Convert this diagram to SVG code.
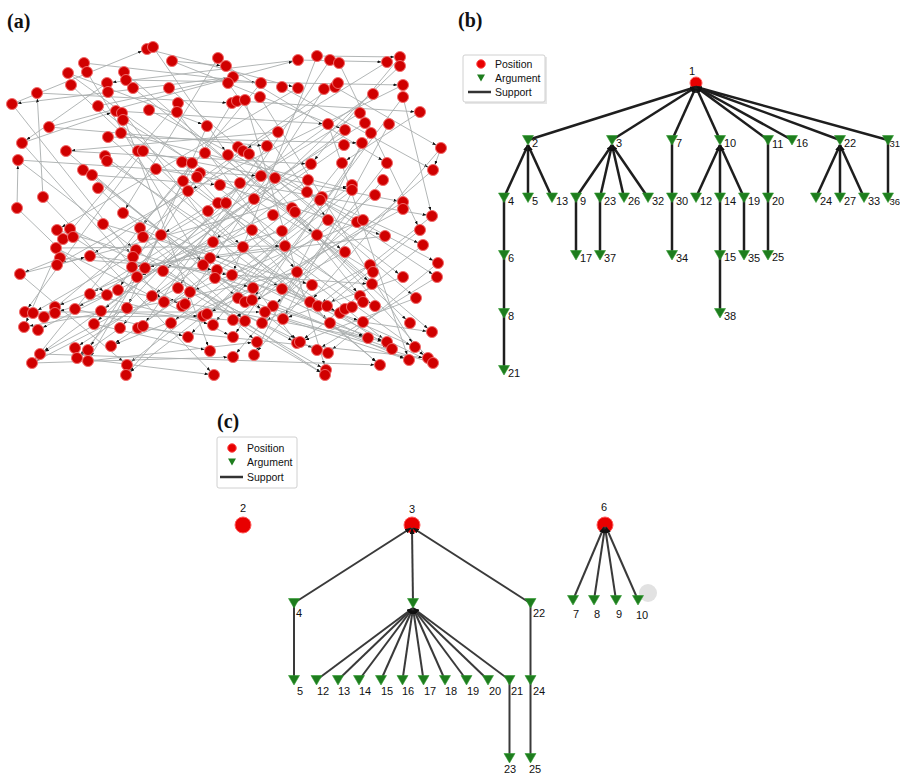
<svg xmlns="http://www.w3.org/2000/svg" xmlns:xlink="http://www.w3.org/1999/xlink" width="900" height="774" viewBox="0 0 900 774">
<style>
.pl{font-family:"Liberation Serif","Times New Roman",serif;font-weight:bold;font-size:20px;fill:#111}
.lg{font-family:"Liberation Sans",Arial,sans-serif;font-size:10.5px;fill:#111}
.lb{font-family:"Liberation Sans",Arial,sans-serif;font-size:11px;fill:#111}
.ea line{stroke:#a9aeae;stroke-width:0.9;marker-end:url(#ahs)}
.ra circle{fill:#d00000;stroke:#f26a6a;stroke-width:1}
.eb line{stroke:#1e1e1e;stroke-width:2.5;marker-end:url(#ah)}
.ec line{stroke:#3a3a3a;stroke-width:2;marker-end:url(#ah)}
.eb line.v,.ec line.v{marker-end:none}
.pos{fill:#e80000;stroke:#ff5a5a;stroke-width:1}
.box{fill:#fff;stroke:#d0d0d0;stroke-width:1}
</style>
<defs>
<marker id="ahs" markerUnits="userSpaceOnUse" markerWidth="4" markerHeight="3" refX="9.5" refY="1.5" orient="auto"><path d="M0,0L4,1.5L0,3z" fill="#111"/></marker>
<marker id="ah" markerUnits="userSpaceOnUse" markerWidth="6" markerHeight="5" refX="6" refY="2.5" orient="auto"><path d="M0,0L6,2.5L0,5z" fill="#111"/></marker>
<path id="tri" d="M-5.5,-4.5H5.5L0,5z" fill="#1e7d1e" stroke="#2f9a2f" stroke-width="0.6"/>
<path id="tris" d="M-4,-3.5H4L0,3.5z" fill="#1e7d1e"/>
</defs>

<text class="pl" x="7" y="28">(a)</text>
<text class="pl" x="458" y="27">(b)</text>
<text class="pl" x="217" y="428">(c)</text>

<g id="a-edges" class="ea">
<line x1="147" y1="49" x2="298" y2="88"/><line x1="153" y1="47" x2="228" y2="155"/><line x1="172" y1="61" x2="345" y2="130"/><line x1="218" y1="58" x2="123" y2="213"/><line x1="226" y1="66" x2="387" y2="163"/>
<line x1="298" y1="60" x2="107" y2="83"/><line x1="317" y1="56" x2="232" y2="275"/><line x1="330" y1="60" x2="178" y2="288"/><line x1="339" y1="63" x2="420" y2="230"/><line x1="387" y1="62" x2="243" y2="151"/>
<line x1="400" y1="57" x2="311" y2="164"/><line x1="400" y1="66" x2="213" y2="242"/><line x1="84" y1="63" x2="261" y2="83"/><line x1="87" y1="72" x2="203" y2="265"/><line x1="68" y1="73" x2="192" y2="163"/>
<line x1="71" y1="85" x2="243" y2="247"/><line x1="124" y1="72" x2="372" y2="284"/><line x1="126" y1="80" x2="403" y2="85"/><line x1="133" y1="88" x2="345" y2="252"/><line x1="107" y1="83" x2="22" y2="143"/>
<line x1="108" y1="92" x2="297" y2="343"/><line x1="169" y1="88" x2="416" y2="298"/><line x1="233" y1="77" x2="12" y2="104"/><line x1="228" y1="83" x2="328" y2="220"/><line x1="261" y1="83" x2="140" y2="228"/>
<line x1="282" y1="87" x2="433" y2="170"/><line x1="298" y1="88" x2="57" y2="230"/><line x1="324" y1="89" x2="185" y2="304"/><line x1="335" y1="87" x2="441" y2="148"/><line x1="338" y1="83" x2="90" y2="256"/>
<line x1="37" y1="93" x2="232" y2="103"/><line x1="260" y1="97" x2="415" y2="347"/><line x1="403" y1="85" x2="188" y2="191"/><line x1="403" y1="97" x2="252" y2="300"/><line x1="373" y1="94" x2="218" y2="203"/>
<line x1="12" y1="104" x2="133" y2="257"/><line x1="98" y1="106" x2="387" y2="342"/><line x1="116" y1="111" x2="328" y2="124"/><line x1="122" y1="113" x2="210" y2="351"/><line x1="123" y1="120" x2="373" y2="272"/>
<line x1="149" y1="110" x2="438" y2="263"/><line x1="178" y1="103" x2="56" y2="248"/><line x1="177" y1="112" x2="297" y2="272"/><line x1="232" y1="103" x2="118" y2="290"/><line x1="237" y1="101" x2="420" y2="112"/>
<line x1="245" y1="100" x2="326" y2="370"/><line x1="420" y1="112" x2="342" y2="163"/><line x1="360" y1="113" x2="161" y2="235"/><line x1="365" y1="123" x2="90" y2="294"/><line x1="371" y1="133" x2="233" y2="337"/>
<line x1="328" y1="124" x2="409" y2="360"/><line x1="345" y1="130" x2="101" y2="311"/><line x1="389" y1="124" x2="283" y2="319"/><line x1="49" y1="127" x2="267" y2="146"/><line x1="207" y1="126" x2="127" y2="308"/>
<line x1="108" y1="137" x2="380" y2="365"/><line x1="121" y1="133" x2="352" y2="190"/><line x1="278" y1="132" x2="66" y2="151"/><line x1="22" y1="143" x2="164" y2="302"/><line x1="66" y1="151" x2="238" y2="298"/>
<line x1="138" y1="151" x2="403" y2="202"/><line x1="143" y1="151" x2="25" y2="312"/><line x1="238" y1="147" x2="437" y2="277"/><line x1="243" y1="151" x2="44" y2="317"/><line x1="249" y1="154" x2="360" y2="296"/>
<line x1="267" y1="146" x2="143" y2="326"/><line x1="228" y1="155" x2="410" y2="323"/><line x1="205" y1="153" x2="317" y2="235"/><line x1="105" y1="156" x2="282" y2="289"/><line x1="107" y1="161" x2="392" y2="349"/>
<line x1="18" y1="160" x2="136" y2="250"/><line x1="344" y1="145" x2="163" y2="271"/><line x1="362" y1="143" x2="254" y2="355"/><line x1="441" y1="148" x2="310" y2="302"/><line x1="311" y1="164" x2="75" y2="309"/>
<line x1="342" y1="163" x2="213" y2="325"/><line x1="387" y1="163" x2="262" y2="323"/><line x1="182" y1="162" x2="330" y2="323"/><line x1="192" y1="163" x2="32" y2="363"/><line x1="83" y1="170" x2="265" y2="312"/>
<line x1="92" y1="175" x2="300" y2="342"/><line x1="156" y1="169" x2="432" y2="216"/><line x1="200" y1="173" x2="363" y2="302"/><line x1="197" y1="177" x2="88" y2="350"/><line x1="183" y1="181" x2="428" y2="358"/>
<line x1="188" y1="191" x2="57" y2="265"/><line x1="220" y1="185" x2="385" y2="236"/><line x1="240" y1="183" x2="77" y2="358"/><line x1="261" y1="176" x2="120" y2="328"/><line x1="275" y1="178" x2="403" y2="277"/>
<line x1="98" y1="188" x2="245" y2="321"/><line x1="43" y1="197" x2="214" y2="375"/><line x1="433" y1="170" x2="273" y2="306"/><line x1="308" y1="180" x2="152" y2="296"/><line x1="383" y1="180" x2="233" y2="357"/>
<line x1="352" y1="185" x2="171" y2="323"/><line x1="352" y1="190" x2="127" y2="365"/><line x1="307" y1="192" x2="423" y2="245"/><line x1="322" y1="197" x2="188" y2="337"/><line x1="320" y1="200" x2="111" y2="346"/>
<line x1="375" y1="195" x2="203" y2="316"/><line x1="254" y1="199" x2="40" y2="354"/><line x1="17" y1="208" x2="107" y2="295"/><line x1="123" y1="213" x2="340" y2="313"/><line x1="208" y1="211" x2="33" y2="313"/>
<line x1="218" y1="203" x2="375" y2="306"/><line x1="226" y1="203" x2="94" y2="324"/><line x1="292" y1="208" x2="138" y2="328"/><line x1="295" y1="212" x2="433" y2="363"/><line x1="273" y1="215" x2="55" y2="307"/>
<line x1="103" y1="224" x2="312" y2="285"/><line x1="57" y1="230" x2="253" y2="288"/><line x1="70" y1="229" x2="317" y2="350"/><line x1="63" y1="239" x2="24" y2="327"/><line x1="73" y1="237" x2="182" y2="306"/>
<line x1="140" y1="228" x2="368" y2="338"/><line x1="143" y1="237" x2="257" y2="342"/><line x1="161" y1="235" x2="88" y2="361"/><line x1="252" y1="230" x2="137" y2="277"/><line x1="282" y1="231" x2="145" y2="268"/>
<line x1="403" y1="202" x2="245" y2="302"/><line x1="403" y1="209" x2="207" y2="314"/><line x1="432" y1="216" x2="318" y2="306"/><line x1="328" y1="220" x2="126" y2="375"/><line x1="357" y1="222" x2="233" y2="320"/>
<line x1="363" y1="220" x2="190" y2="292"/><line x1="317" y1="235" x2="432" y2="332"/><line x1="385" y1="236" x2="210" y2="258"/><line x1="420" y1="230" x2="327" y2="306"/><line x1="213" y1="242" x2="38" y2="330"/>
<line x1="243" y1="247" x2="380" y2="365"/><line x1="285" y1="246" x2="132" y2="267"/><line x1="423" y1="245" x2="300" y2="342"/><line x1="56" y1="248" x2="233" y2="337"/><line x1="60" y1="258" x2="20" y2="274"/>
<line x1="136" y1="250" x2="325" y2="375"/><line x1="90" y1="256" x2="232" y2="275"/><line x1="210" y1="258" x2="415" y2="347"/><line x1="203" y1="265" x2="75" y2="348"/><line x1="217" y1="270" x2="363" y2="322"/>
<line x1="215" y1="278" x2="409" y2="360"/><line x1="20" y1="274" x2="127" y2="365"/><line x1="163" y1="271" x2="297" y2="343"/><line x1="232" y1="275" x2="372" y2="284"/><line x1="297" y1="272" x2="164" y2="302"/>
<line x1="345" y1="252" x2="252" y2="302"/><line x1="370" y1="265" x2="262" y2="323"/><line x1="438" y1="263" x2="328" y2="353"/><line x1="437" y1="277" x2="317" y2="350"/><line x1="403" y1="277" x2="283" y2="319"/>
<line x1="90" y1="294" x2="213" y2="325"/><line x1="107" y1="295" x2="55" y2="313"/><line x1="118" y1="290" x2="387" y2="342"/><line x1="178" y1="288" x2="32" y2="363"/><line x1="190" y1="292" x2="326" y2="370"/>
<line x1="253" y1="288" x2="111" y2="346"/><line x1="282" y1="289" x2="433" y2="363"/><line x1="164" y1="302" x2="24" y2="327"/><line x1="238" y1="298" x2="368" y2="338"/><line x1="273" y1="306" x2="392" y2="349"/>
<line x1="416" y1="298" x2="300" y2="342"/><line x1="312" y1="285" x2="254" y2="355"/><line x1="40" y1="354" x2="380" y2="365"/><line x1="32" y1="363" x2="233" y2="357"/><line x1="77" y1="358" x2="214" y2="375"/>
<line x1="88" y1="361" x2="257" y2="342"/><line x1="25" y1="312" x2="265" y2="312"/><line x1="44" y1="317" x2="203" y2="316"/><line x1="75" y1="309" x2="188" y2="337"/><line x1="101" y1="311" x2="245" y2="321"/>
<line x1="127" y1="308" x2="40" y2="354"/><line x1="94" y1="324" x2="210" y2="351"/><line x1="120" y1="328" x2="77" y2="358"/><line x1="138" y1="328" x2="428" y2="358"/><line x1="233" y1="320" x2="325" y2="375"/>
<line x1="265" y1="312" x2="433" y2="363"/><line x1="283" y1="319" x2="409" y2="360"/><line x1="330" y1="323" x2="387" y2="342"/><line x1="363" y1="322" x2="432" y2="332"/><line x1="171" y1="323" x2="126" y2="375"/>
<line x1="12" y1="104" x2="147" y2="49"/><line x1="17" y1="208" x2="18" y2="160"/><line x1="43" y1="197" x2="37" y2="93"/><line x1="441" y1="148" x2="433" y2="170"/><line x1="403" y1="97" x2="432" y2="216"/>
<line x1="317" y1="56" x2="400" y2="57"/><line x1="298" y1="60" x2="387" y2="62"/><line x1="172" y1="61" x2="226" y2="66"/><line x1="49" y1="127" x2="298" y2="60"/><line x1="68" y1="73" x2="207" y2="126"/>
<line x1="98" y1="106" x2="233" y2="77"/><line x1="22" y1="143" x2="116" y2="111"/><line x1="66" y1="151" x2="311" y2="164"/><line x1="108" y1="137" x2="362" y2="143"/><line x1="18" y1="160" x2="261" y2="176"/>
<line x1="92" y1="175" x2="220" y2="185"/><line x1="57" y1="265" x2="352" y2="185"/><line x1="56" y1="248" x2="285" y2="246"/><line x1="60" y1="258" x2="217" y2="270"/><line x1="20" y1="274" x2="90" y2="256"/>
</g>

<g id="a-nodes" class="ra">
<circle cx="147" cy="49" r="5.5"/><circle cx="153" cy="47" r="5.5"/><circle cx="172" cy="61" r="5.5"/><circle cx="218" cy="58" r="5.5"/><circle cx="226" cy="66" r="5.5"/><circle cx="298" cy="60" r="5.5"/><circle cx="317" cy="56" r="5.5"/><circle cx="330" cy="60" r="5.5"/><circle cx="339" cy="63" r="5.5"/><circle cx="387" cy="62" r="5.5"/><circle cx="400" cy="57" r="5.5"/><circle cx="400" cy="66" r="5.5"/><circle cx="84" cy="63" r="5.5"/><circle cx="87" cy="72" r="5.5"/><circle cx="68" cy="73" r="5.5"/>
<circle cx="71" cy="85" r="5.5"/><circle cx="124" cy="72" r="5.5"/><circle cx="126" cy="80" r="5.5"/><circle cx="133" cy="88" r="5.5"/><circle cx="107" cy="83" r="5.5"/><circle cx="108" cy="92" r="5.5"/><circle cx="169" cy="88" r="5.5"/><circle cx="233" cy="77" r="5.5"/><circle cx="228" cy="83" r="5.5"/><circle cx="261" cy="83" r="5.5"/><circle cx="282" cy="87" r="5.5"/><circle cx="298" cy="88" r="5.5"/><circle cx="324" cy="89" r="5.5"/><circle cx="335" cy="87" r="5.5"/><circle cx="338" cy="83" r="5.5"/><circle cx="37" cy="93" r="5.5"/><circle cx="260" cy="97" r="5.5"/><circle cx="403" cy="85" r="5.5"/><circle cx="403" cy="97" r="5.5"/><circle cx="373" cy="94" r="5.5"/>
<circle cx="12" cy="104" r="5.5"/><circle cx="98" cy="106" r="5.5"/><circle cx="116" cy="111" r="5.5"/><circle cx="122" cy="113" r="5.5"/><circle cx="123" cy="120" r="5.5"/><circle cx="149" cy="110" r="5.5"/><circle cx="178" cy="103" r="5.5"/><circle cx="177" cy="112" r="5.5"/><circle cx="232" cy="103" r="5.5"/><circle cx="237" cy="101" r="5.5"/><circle cx="245" cy="100" r="5.5"/><circle cx="420" cy="112" r="5.5"/><circle cx="360" cy="113" r="5.5"/><circle cx="365" cy="123" r="5.5"/><circle cx="371" cy="133" r="5.5"/><circle cx="328" cy="124" r="5.5"/><circle cx="345" cy="130" r="5.5"/><circle cx="389" cy="124" r="5.5"/><circle cx="49" cy="127" r="5.5"/><circle cx="207" cy="126" r="5.5"/><circle cx="108" cy="137" r="5.5"/><circle cx="121" cy="133" r="5.5"/><circle cx="278" cy="132" r="5.5"/>
<circle cx="22" cy="143" r="5.5"/><circle cx="66" cy="151" r="5.5"/><circle cx="138" cy="151" r="5.5"/><circle cx="143" cy="151" r="5.5"/><circle cx="238" cy="147" r="5.5"/><circle cx="243" cy="151" r="5.5"/><circle cx="249" cy="154" r="5.5"/><circle cx="267" cy="146" r="5.5"/><circle cx="228" cy="155" r="5.5"/><circle cx="205" cy="153" r="5.5"/><circle cx="105" cy="156" r="5.5"/><circle cx="107" cy="161" r="5.5"/><circle cx="18" cy="160" r="5.5"/><circle cx="344" cy="145" r="5.5"/><circle cx="362" cy="143" r="5.5"/><circle cx="441" cy="148" r="5.5"/><circle cx="311" cy="164" r="5.5"/><circle cx="342" cy="163" r="5.5"/><circle cx="387" cy="163" r="5.5"/><circle cx="182" cy="162" r="5.5"/><circle cx="192" cy="163" r="5.5"/>
<circle cx="83" cy="170" r="5.5"/><circle cx="92" cy="175" r="5.5"/><circle cx="156" cy="169" r="5.5"/><circle cx="200" cy="173" r="5.5"/><circle cx="197" cy="177" r="5.5"/><circle cx="183" cy="181" r="5.5"/><circle cx="188" cy="191" r="5.5"/><circle cx="220" cy="185" r="5.5"/><circle cx="240" cy="183" r="5.5"/><circle cx="261" cy="176" r="5.5"/><circle cx="275" cy="178" r="5.5"/><circle cx="98" cy="188" r="5.5"/><circle cx="43" cy="197" r="5.5"/><circle cx="433" cy="170" r="5.5"/><circle cx="308" cy="180" r="5.5"/><circle cx="383" cy="180" r="5.5"/><circle cx="352" cy="185" r="5.5"/><circle cx="352" cy="190" r="5.5"/><circle cx="307" cy="192" r="5.5"/><circle cx="322" cy="197" r="5.5"/><circle cx="320" cy="200" r="5.5"/><circle cx="375" cy="195" r="5.5"/><circle cx="254" cy="199" r="5.5"/>
<circle cx="17" cy="208" r="5.5"/><circle cx="123" cy="213" r="5.5"/><circle cx="208" cy="211" r="5.5"/><circle cx="218" cy="203" r="5.5"/><circle cx="226" cy="203" r="5.5"/><circle cx="292" cy="208" r="5.5"/><circle cx="295" cy="212" r="5.5"/><circle cx="273" cy="215" r="5.5"/><circle cx="103" cy="224" r="5.5"/><circle cx="57" cy="230" r="5.5"/><circle cx="70" cy="229" r="5.5"/><circle cx="63" cy="239" r="5.5"/><circle cx="73" cy="237" r="5.5"/><circle cx="140" cy="228" r="5.5"/><circle cx="143" cy="237" r="5.5"/><circle cx="161" cy="235" r="5.5"/><circle cx="252" cy="230" r="5.5"/><circle cx="282" cy="231" r="5.5"/><circle cx="403" cy="202" r="5.5"/><circle cx="403" cy="209" r="5.5"/><circle cx="432" cy="216" r="5.5"/><circle cx="328" cy="220" r="5.5"/><circle cx="357" cy="222" r="5.5"/><circle cx="363" cy="220" r="5.5"/><circle cx="317" cy="235" r="5.5"/><circle cx="385" cy="236" r="5.5"/><circle cx="420" cy="230" r="5.5"/><circle cx="213" cy="242" r="5.5"/>
<circle cx="243" cy="247" r="5.5"/><circle cx="285" cy="246" r="5.5"/><circle cx="423" cy="245" r="5.5"/><circle cx="56" cy="248" r="5.5"/><circle cx="60" cy="258" r="5.5"/><circle cx="57" cy="265" r="5.5"/><circle cx="136" cy="250" r="5.5"/><circle cx="133" cy="257" r="5.5"/><circle cx="90" cy="256" r="5.5"/><circle cx="210" cy="258" r="5.5"/><circle cx="203" cy="265" r="5.5"/><circle cx="217" cy="270" r="5.5"/><circle cx="215" cy="278" r="5.5"/><circle cx="20" cy="274" r="5.5"/><circle cx="132" cy="267" r="5.5"/><circle cx="145" cy="268" r="5.5"/><circle cx="163" cy="271" r="5.5"/><circle cx="137" cy="277" r="5.5"/><circle cx="232" cy="275" r="5.5"/><circle cx="297" cy="272" r="5.5"/><circle cx="345" cy="252" r="5.5"/><circle cx="370" cy="265" r="5.5"/><circle cx="373" cy="272" r="5.5"/><circle cx="438" cy="263" r="5.5"/><circle cx="437" cy="277" r="5.5"/><circle cx="403" cy="277" r="5.5"/>
<circle cx="90" cy="294" r="5.5"/><circle cx="107" cy="295" r="5.5"/><circle cx="118" cy="290" r="5.5"/><circle cx="152" cy="296" r="5.5"/><circle cx="178" cy="288" r="5.5"/><circle cx="190" cy="292" r="5.5"/><circle cx="253" cy="288" r="5.5"/><circle cx="282" cy="289" r="5.5"/><circle cx="164" cy="302" r="5.5"/><circle cx="182" cy="306" r="5.5"/><circle cx="185" cy="304" r="5.5"/><circle cx="238" cy="298" r="5.5"/><circle cx="245" cy="302" r="5.5"/><circle cx="252" cy="300" r="5.5"/><circle cx="273" cy="306" r="5.5"/><circle cx="372" cy="284" r="5.5"/><circle cx="312" cy="285" r="5.5"/><circle cx="416" cy="298" r="5.5"/><circle cx="310" cy="302" r="5.5"/><circle cx="318" cy="306" r="5.5"/><circle cx="327" cy="306" r="5.5"/><circle cx="340" cy="313" r="5.5"/><circle cx="345" cy="309" r="5.5"/><circle cx="352" cy="307" r="5.5"/><circle cx="360" cy="296" r="5.5"/><circle cx="363" cy="302" r="5.5"/><circle cx="375" cy="306" r="5.5"/>
<circle cx="25" cy="312" r="5.5"/><circle cx="33" cy="313" r="5.5"/><circle cx="55" cy="307" r="5.5"/><circle cx="55" cy="313" r="5.5"/><circle cx="44" cy="317" r="5.5"/><circle cx="75" cy="309" r="5.5"/><circle cx="101" cy="311" r="5.5"/><circle cx="127" cy="308" r="5.5"/><circle cx="203" cy="316" r="5.5"/><circle cx="207" cy="314" r="5.5"/><circle cx="233" cy="320" r="5.5"/><circle cx="245" cy="321" r="5.5"/><circle cx="262" cy="323" r="5.5"/><circle cx="265" cy="312" r="5.5"/><circle cx="24" cy="327" r="5.5"/><circle cx="38" cy="330" r="5.5"/><circle cx="94" cy="324" r="5.5"/><circle cx="120" cy="328" r="5.5"/><circle cx="138" cy="328" r="5.5"/><circle cx="143" cy="326" r="5.5"/><circle cx="171" cy="323" r="5.5"/><circle cx="213" cy="325" r="5.5"/><circle cx="188" cy="337" r="5.5"/><circle cx="233" cy="337" r="5.5"/><circle cx="283" cy="319" r="5.5"/><circle cx="330" cy="323" r="5.5"/><circle cx="363" cy="322" r="5.5"/><circle cx="410" cy="323" r="5.5"/><circle cx="432" cy="332" r="5.5"/>
<circle cx="257" cy="342" r="5.5"/><circle cx="297" cy="343" r="5.5"/><circle cx="75" cy="348" r="5.5"/><circle cx="88" cy="350" r="5.5"/><circle cx="111" cy="346" r="5.5"/><circle cx="210" cy="351" r="5.5"/><circle cx="40" cy="354" r="5.5"/><circle cx="32" cy="363" r="5.5"/><circle cx="77" cy="358" r="5.5"/><circle cx="88" cy="361" r="5.5"/><circle cx="233" cy="357" r="5.5"/><circle cx="254" cy="355" r="5.5"/><circle cx="127" cy="365" r="5.5"/><circle cx="126" cy="375" r="5.5"/><circle cx="214" cy="375" r="5.5"/><circle cx="300" cy="342" r="5.5"/><circle cx="317" cy="350" r="5.5"/><circle cx="328" cy="353" r="5.5"/><circle cx="368" cy="338" r="5.5"/><circle cx="387" cy="342" r="5.5"/><circle cx="392" cy="349" r="5.5"/><circle cx="415" cy="347" r="5.5"/><circle cx="380" cy="365" r="5.5"/><circle cx="409" cy="360" r="5.5"/><circle cx="428" cy="358" r="5.5"/><circle cx="433" cy="363" r="5.5"/><circle cx="326" cy="370" r="5.5"/><circle cx="325" cy="375" r="5.5"/>
</g>

<g id="b-legend">
<rect x="465" y="57" width="82" height="47" fill="#e6e6e6"/>
<rect class="box" x="463" y="55" width="82" height="47" rx="2"/>
<circle class="pos" cx="481" cy="64" r="4.3"/>
<text class="lg" x="495" y="67.5">Position</text>
<use href="#tris" x="481" y="78"/>
<text class="lg" x="495" y="81.5">Argument</text>
<line x1="468" y1="92" x2="491" y2="92" stroke="#333" stroke-width="2.5"/>
<text class="lg" x="495" y="95.5">Support</text>
</g>

<g id="b-n1"><circle class="pos" cx="696" cy="83" r="6"/><text class="lb" x="692" y="75" text-anchor="middle">1</text></g>

<g id="b-edges" class="eb">
<line x1="528" y1="140" x2="696" y2="87"/><line x1="612" y1="140" x2="696" y2="87"/><line x1="672" y1="140" x2="696" y2="87"/><line x1="720" y1="140" x2="696" y2="87"/>
<line x1="768" y1="140" x2="696" y2="87"/><line x1="792" y1="140" x2="696" y2="87"/><line x1="840" y1="140" x2="696" y2="87"/><line x1="888" y1="140" x2="696" y2="87"/>
<line x1="504" y1="197.5" x2="528" y2="145"/><line class="v" x1="528" y1="197.5" x2="528" y2="145"/><line x1="552" y1="197.5" x2="528" y2="145"/>
<line x1="576" y1="197.5" x2="612" y2="145"/><line x1="600" y1="197.5" x2="612" y2="145"/><line x1="624" y1="197.5" x2="612" y2="145"/><line x1="648" y1="197.5" x2="612" y2="145"/>
<line class="v" x1="672" y1="197.5" x2="672" y2="140"/>
<line x1="696" y1="197.5" x2="720" y2="145"/><line class="v" x1="720" y1="197.5" x2="720" y2="145"/><line x1="744" y1="197.5" x2="720" y2="145"/>
<line class="v" x1="768" y1="197.5" x2="768" y2="140"/>
<line x1="816" y1="197.5" x2="840" y2="145"/><line class="v" x1="840" y1="197.5" x2="840" y2="145"/><line x1="864" y1="197.5" x2="840" y2="145"/>
<line class="v" x1="888" y1="197.5" x2="888" y2="140"/>
<line class="v" x1="504" y1="255" x2="504" y2="197.5"/><line class="v" x1="576" y1="255" x2="576" y2="197.5"/><line class="v" x1="600" y1="255" x2="600" y2="197.5"/><line class="v" x1="672" y1="255" x2="672" y2="197.5"/>
<line class="v" x1="720" y1="255" x2="720" y2="197.5"/><line class="v" x1="744" y1="255" x2="744" y2="197.5"/><line class="v" x1="768" y1="255" x2="768" y2="197.5"/>
<line class="v" x1="504" y1="313" x2="504" y2="255"/><line class="v" x1="720" y1="313" x2="720" y2="255"/><line class="v" x1="504" y1="370" x2="504" y2="313"/>
</g>

<g id="b-n2"><use href="#tri" x="528" y="140"/><text class="lb" x="532" y="147">2</text></g>
<g id="b-n3"><use href="#tri" x="612" y="140"/><text class="lb" x="616" y="147">3</text></g>
<g id="b-n7"><use href="#tri" x="672" y="140"/><text class="lb" x="676" y="147">7</text></g>
<g id="b-n10"><use href="#tri" x="720" y="140"/><text class="lb" x="724" y="147">10</text></g>
<g id="b-n11"><use href="#tri" x="768" y="140"/><text class="lb" x="772" y="148">11</text></g>
<g id="b-n16"><use href="#tri" x="792" y="140"/><text class="lb" x="796" y="147">16</text></g>
<g id="b-n22"><use href="#tri" x="840" y="140"/><text class="lb" x="844" y="147">22</text></g>
<g id="b-n31"><use href="#tri" x="888" y="140"/><text class="lb" x="889.5" y="147" style="font-size:9.5px">31</text></g>
<g id="b-n4"><use href="#tri" x="504" y="197.5"/><text class="lb" x="508" y="205">4</text></g>
<g id="b-n5"><use href="#tri" x="528" y="197.5"/><text class="lb" x="532" y="205">5</text></g>
<g id="b-n13"><use href="#tri" x="552" y="197.5"/><text class="lb" x="556" y="205">13</text></g>
<g id="b-n9"><use href="#tri" x="576" y="197.5"/><text class="lb" x="580" y="205">9</text></g>
<g id="b-n23"><use href="#tri" x="600" y="197.5"/><text class="lb" x="604" y="205">23</text></g>
<g id="b-n26"><use href="#tri" x="624" y="197.5"/><text class="lb" x="628" y="205">26</text></g>
<g id="b-n32"><use href="#tri" x="648" y="197.5"/><text class="lb" x="652" y="205">32</text></g>
<g id="b-n30"><use href="#tri" x="672" y="197.5"/><text class="lb" x="676" y="205">30</text></g>
<g id="b-n12"><use href="#tri" x="696" y="197.5"/><text class="lb" x="700" y="205">12</text></g>
<g id="b-n14"><use href="#tri" x="720" y="197.5"/><text class="lb" x="724" y="205">14</text></g>
<g id="b-n19"><use href="#tri" x="744" y="197.5"/><text class="lb" x="748" y="205">19</text></g>
<g id="b-n20"><use href="#tri" x="768" y="197.5"/><text class="lb" x="772" y="205">20</text></g>
<g id="b-n24"><use href="#tri" x="816" y="197.5"/><text class="lb" x="820" y="205">24</text></g>
<g id="b-n27"><use href="#tri" x="840" y="197.5"/><text class="lb" x="844" y="205">27</text></g>
<g id="b-n33"><use href="#tri" x="864" y="197.5"/><text class="lb" x="868" y="205">33</text></g>
<g id="b-n36"><use href="#tri" x="888" y="197.5"/><text class="lb" x="889.5" y="205" style="font-size:9.5px">36</text></g>
<g id="b-n6"><use href="#tri" x="504" y="255"/><text class="lb" x="508" y="262">6</text></g>
<g id="b-n17"><use href="#tri" x="576" y="255"/><text class="lb" x="580" y="262">17</text></g>
<g id="b-n37"><use href="#tri" x="600" y="255"/><text class="lb" x="604" y="262">37</text></g>
<g id="b-n34"><use href="#tri" x="672" y="255"/><text class="lb" x="676" y="262">34</text></g>
<g id="b-n15"><use href="#tri" x="720" y="255"/><text class="lb" x="724" y="261">15</text></g>
<g id="b-n35"><use href="#tri" x="744" y="255"/><text class="lb" x="748" y="262">35</text></g>
<g id="b-n25"><use href="#tri" x="768" y="255"/><text class="lb" x="772" y="261">25</text></g>
<g id="b-n8"><use href="#tri" x="504" y="313"/><text class="lb" x="508" y="320">8</text></g>
<g id="b-n38"><use href="#tri" x="720" y="313"/><text class="lb" x="724" y="320">38</text></g>
<g id="b-n21"><use href="#tri" x="504" y="370"/><text class="lb" x="508" y="377">21</text></g>

<g id="c-legend">
<rect class="box" x="217" y="437" width="80" height="51" rx="2" stroke="#ececec"/>
<circle class="pos" cx="232" cy="448" r="4.3"/>
<text class="lg" x="247" y="451.5">Position</text>
<use href="#tris" x="232" y="462"/>
<text class="lg" x="247" y="465.5">Argument</text>
<line x1="220" y1="477" x2="243" y2="477" stroke="#333" stroke-width="2.5"/>
<text class="lg" x="247" y="480.5">Support</text>
</g>

<g id="c-n2"><circle class="pos" cx="243" cy="525" r="8"/><text class="lb" x="243" y="512" text-anchor="middle">2</text></g>
<g id="c-n3"><circle class="pos" cx="412" cy="525" r="8"/><text class="lb" x="412" y="513" text-anchor="middle">3</text></g>
<g id="c-n6"><circle class="pos" cx="605" cy="525" r="8"/><text class="lb" x="604" y="511" text-anchor="middle">6</text></g>
<circle cx="648" cy="593" r="9" fill="#e2e2e2"/>

<g id="c-edges" class="ec">
<line x1="294" y1="603" x2="411" y2="528"/><line x1="413" y1="603" x2="412" y2="528"/><line x1="530" y1="603" x2="413" y2="528"/>
<line class="v" x1="294" y1="680" x2="294" y2="603"/>
<line x1="316.5" y1="680" x2="413" y2="608"/><line x1="338" y1="680" x2="413" y2="608"/><line x1="359" y1="680" x2="413" y2="608"/><line x1="381" y1="680" x2="413" y2="608"/><line x1="402.5" y1="680" x2="413" y2="608"/>
<line x1="423.5" y1="680" x2="413" y2="608"/><line x1="445" y1="680" x2="413" y2="608"/><line x1="466.5" y1="680" x2="413" y2="608"/><line x1="488" y1="680" x2="413" y2="608"/><line x1="509.5" y1="680" x2="413" y2="608"/>
<line class="v" x1="530.5" y1="680" x2="530.5" y2="603"/>
<line class="v" x1="509.5" y1="758" x2="509.5" y2="680"/><line class="v" x1="530.5" y1="758" x2="530.5" y2="680"/>
<line x1="573" y1="600" x2="604" y2="527"/><line x1="594" y1="600" x2="605" y2="527"/><line x1="616" y1="600" x2="605" y2="527"/><line x1="638" y1="600" x2="606" y2="527"/>
</g>

<g id="c-n4"><use href="#tri" x="294" y="603"/><text class="lb" x="296" y="617">4</text></g>
<g id="c-n11"><use href="#tri" x="413" y="603"/></g>
<g id="c-n22"><use href="#tri" x="530.5" y="603"/><text class="lb" x="533" y="617">22</text></g>
<g id="c-n5"><use href="#tri" x="294" y="680"/><text class="lb" x="297" y="695">5</text></g>
<g id="c-n12"><use href="#tri" x="316.5" y="680"/><text class="lb" x="317" y="695">12</text></g>
<g id="c-n13"><use href="#tri" x="338" y="680"/><text class="lb" x="338" y="695">13</text></g>
<g id="c-n14"><use href="#tri" x="359" y="680"/><text class="lb" x="359" y="695">14</text></g>
<g id="c-n15"><use href="#tri" x="381" y="680"/><text class="lb" x="381" y="695">15</text></g>
<g id="c-n16"><use href="#tri" x="402.5" y="680"/><text class="lb" x="402" y="695">16</text></g>
<g id="c-n17"><use href="#tri" x="423.5" y="680"/><text class="lb" x="424" y="695">17</text></g>
<g id="c-n18"><use href="#tri" x="445" y="680"/><text class="lb" x="445" y="695">18</text></g>
<g id="c-n19"><use href="#tri" x="466.5" y="680"/><text class="lb" x="467" y="695">19</text></g>
<g id="c-n20"><use href="#tri" x="488" y="680"/><text class="lb" x="489" y="695">20</text></g>
<g id="c-n21"><use href="#tri" x="509.5" y="680"/><text class="lb" x="511" y="695">21</text></g>
<g id="c-n24"><use href="#tri" x="530.5" y="680"/><text class="lb" x="533" y="695">24</text></g>
<g id="c-n23"><use href="#tri" x="509.5" y="758"/><text class="lb" x="504" y="773">23</text></g>
<g id="c-n25"><use href="#tri" x="530.5" y="758"/><text class="lb" x="529" y="773">25</text></g>
<g id="c-n7"><use href="#tri" x="573" y="600"/><text class="lb" x="573" y="618">7</text></g>
<g id="c-n8"><use href="#tri" x="594" y="600"/><text class="lb" x="594" y="618">8</text></g>
<g id="c-n9"><use href="#tri" x="616" y="600"/><text class="lb" x="616" y="618">9</text></g>
<g id="c-n10"><use href="#tri" x="638" y="600"/><text class="lb" x="636" y="619">10</text></g>
</svg>
